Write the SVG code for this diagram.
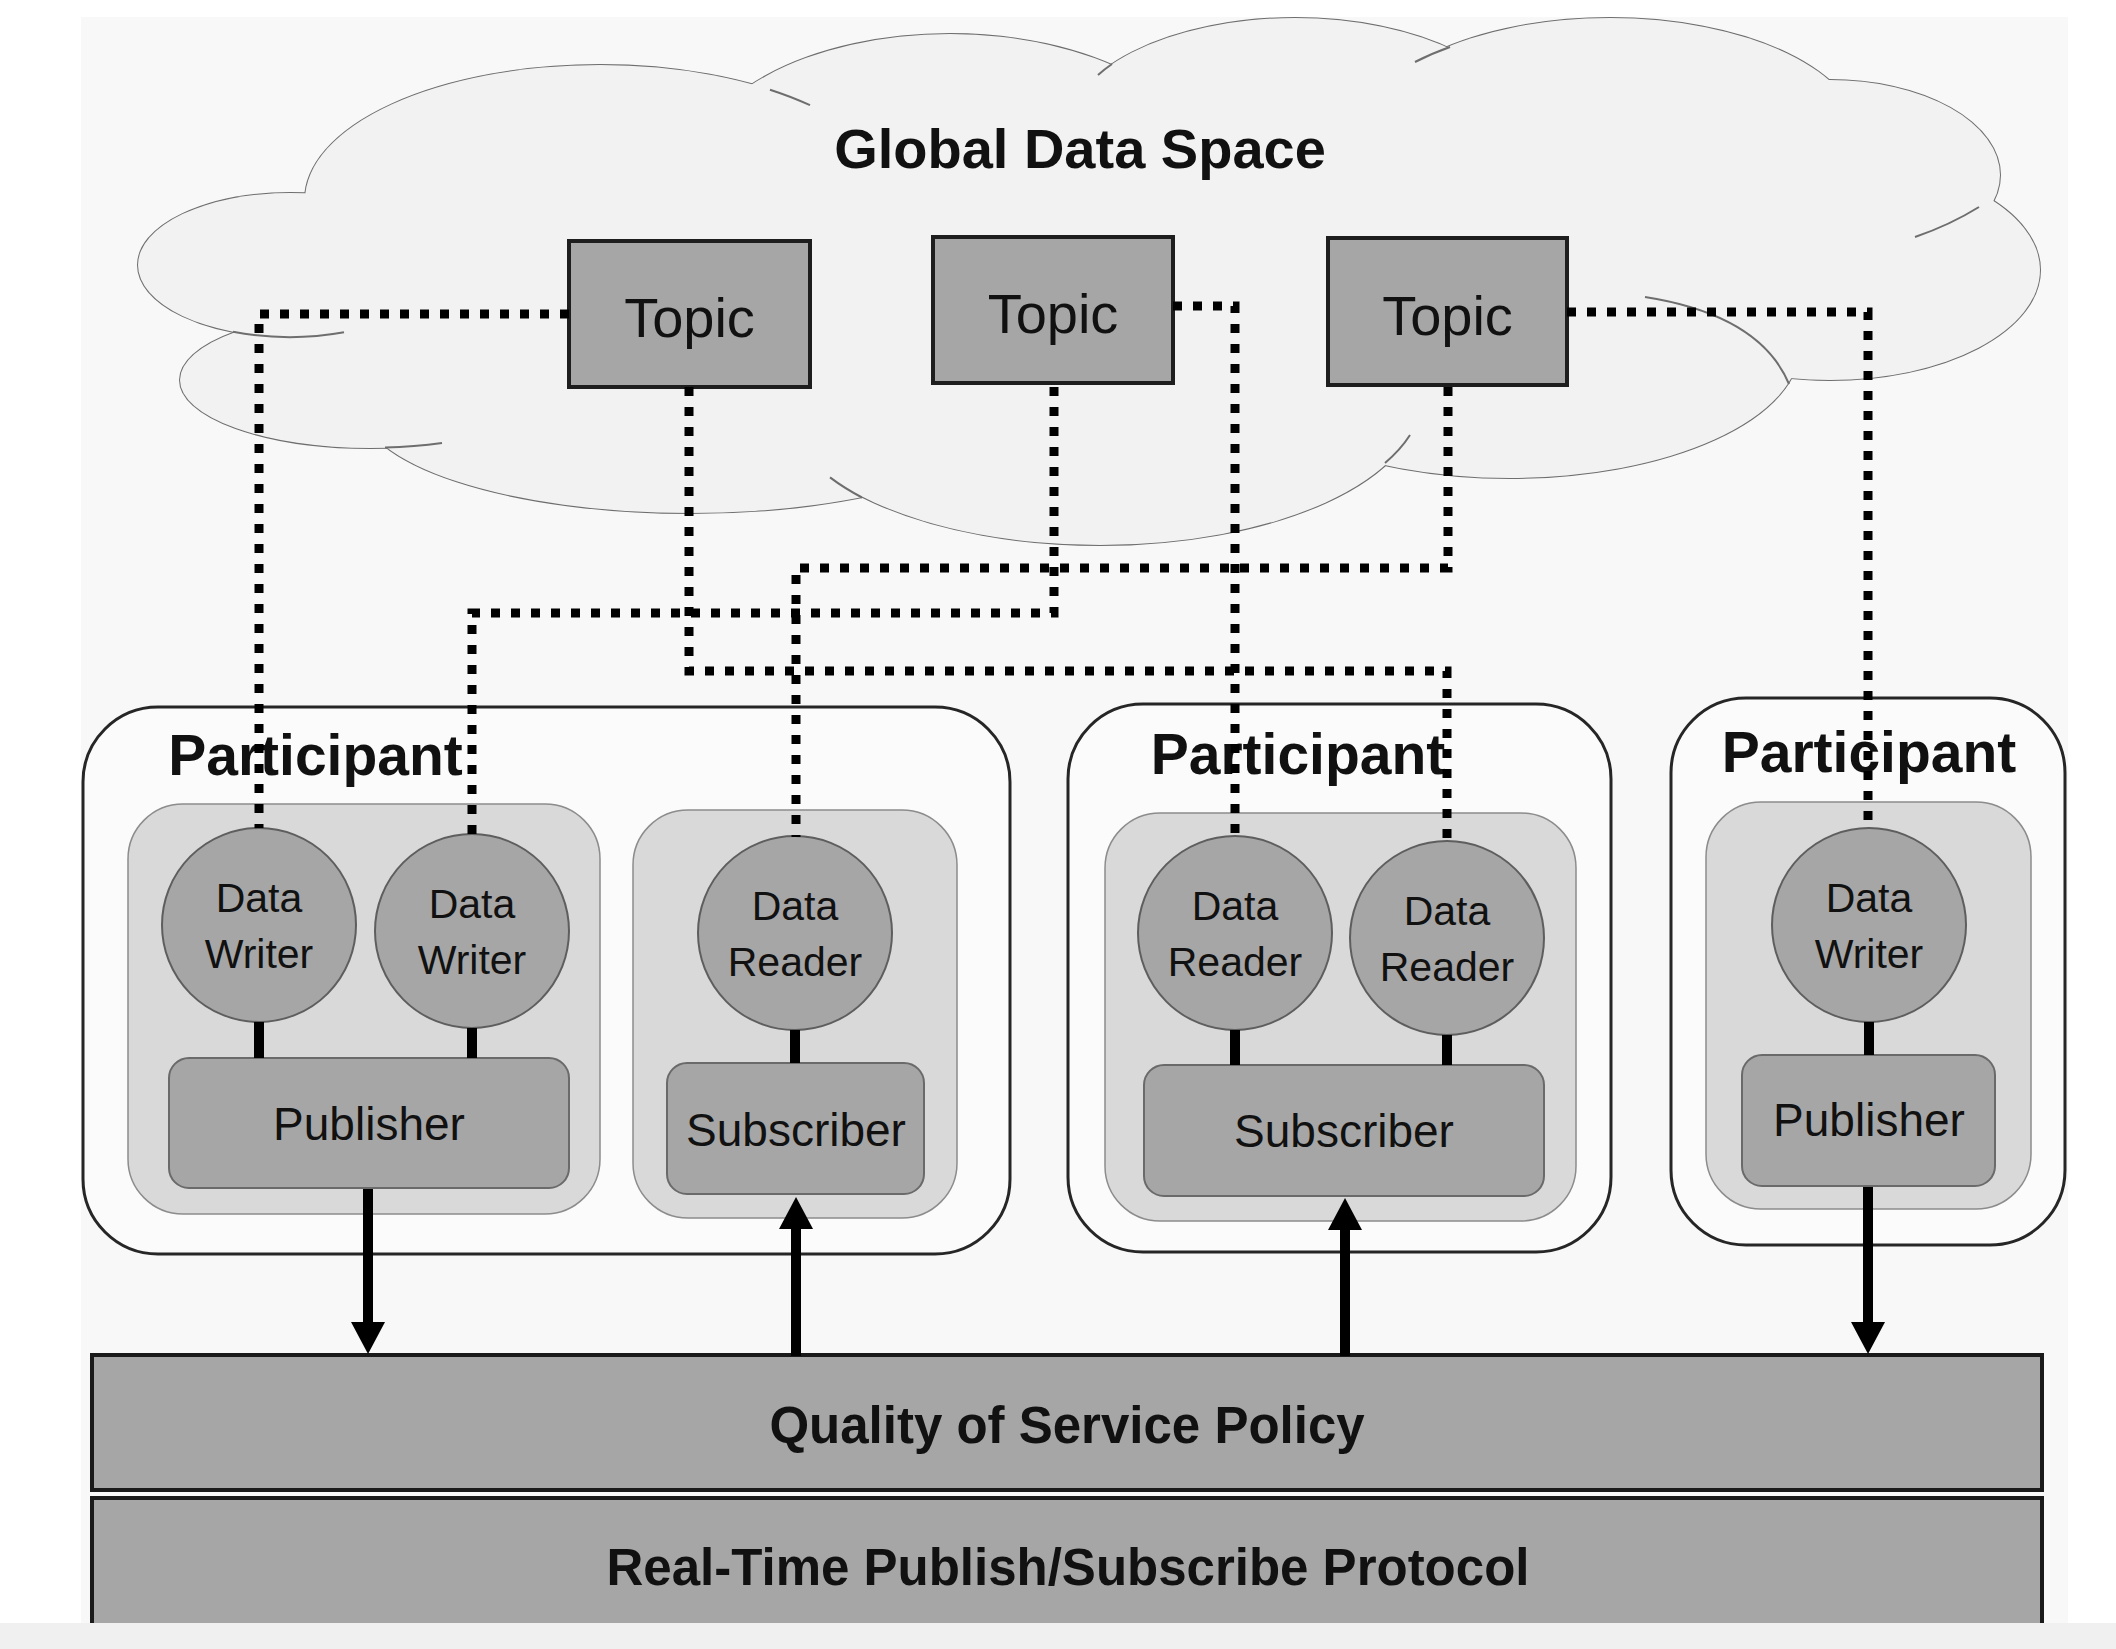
<svg xmlns="http://www.w3.org/2000/svg" width="2116" height="1649" viewBox="0 0 2116 1649">
<style>
.cl{fill:#f2f2f2;stroke:#6e6e6e;stroke-width:2}
.cf{fill:#f2f2f2;stroke:none}
.tail{fill:none;stroke:#6e6e6e;stroke-width:2}
.topic{fill:#a6a6a6;stroke:#1e1e1e;stroke-width:4}
.part{fill:#fbfbfb;stroke:#262626;stroke-width:3}
.inner{fill:#d9d9d9;stroke:#8c8c8c;stroke-width:1.5}
.box{fill:#a6a6a6;stroke:#6a6a6a;stroke-width:2}
.ent{fill:#a6a6a6;stroke:#5e5e5e;stroke-width:2}
.bar{fill:#a6a6a6;stroke:#1a1a1a;stroke-width:4}
.t{font-family:"Liberation Sans",Arial,sans-serif;fill:#111;text-anchor:middle}
.b{font-weight:bold}
.dot{fill:none;stroke:#000;stroke-width:9;stroke-dasharray:9 11}
.link{fill:none;stroke:#000;stroke-width:10}
.arr{fill:none;stroke:#000;stroke-width:10;marker-end:url(#ah)}
</style>
<defs>
<marker id="ah" markerUnits="userSpaceOnUse" markerWidth="34" markerHeight="34" viewBox="0 0 32 34" refX="2" refY="17" orient="auto"><path d="M0,0 L32,17 L0,34 z" fill="#000"/></marker>
</defs>
<rect x="0" y="0" width="2116" height="1649" fill="#ffffff"/>
<rect x="81" y="17" width="1987" height="1610" fill="#f8f8f8"/>

<g id="cloud">
<ellipse class="cl" cx="600" cy="200" rx="295" ry="135"/>
<ellipse class="cl" cx="950" cy="177" rx="260" ry="143"/>
<ellipse class="cl" cx="1295" cy="135" rx="230" ry="117"/>
<ellipse class="cl" cx="1610" cy="138" rx="250" ry="120"/>
<ellipse class="cl" cx="1830" cy="175" rx="170" ry="95"/>
<ellipse class="cl" cx="1830" cy="270" rx="210" ry="110"/>
<ellipse class="cl" cx="1510" cy="346" rx="290" ry="132"/>
<ellipse class="cl" cx="1100" cy="399" rx="320" ry="146"/>
<ellipse class="cl" cx="690" cy="405" rx="330" ry="108"/>
<ellipse class="cl" cx="370" cy="380" rx="190" ry="68"/>
<ellipse class="cl" cx="290" cy="265" rx="152" ry="72"/>
<ellipse class="cf" cx="600" cy="200" rx="295" ry="135"/>
<ellipse class="cf" cx="950" cy="177" rx="260" ry="143"/>
<ellipse class="cf" cx="1295" cy="135" rx="230" ry="117"/>
<ellipse class="cf" cx="1610" cy="138" rx="250" ry="120"/>
<ellipse class="cf" cx="1830" cy="175" rx="170" ry="95"/>
<ellipse class="cf" cx="1830" cy="270" rx="210" ry="110"/>
<ellipse class="cf" cx="1510" cy="346" rx="290" ry="132"/>
<ellipse class="cf" cx="1100" cy="399" rx="320" ry="146"/>
<ellipse class="cf" cx="690" cy="405" rx="330" ry="108"/>
<ellipse class="cf" cx="370" cy="380" rx="190" ry="68"/>
<ellipse class="cf" cx="290" cy="265" rx="152" ry="72"/>
<ellipse class="cf" cx="1080" cy="290" rx="800" ry="185"/>
<path class="tail" d="M770,89.7 A295 135 0 0 1 810,105.2"/>
<path class="tail" d="M1112,64 A230 117 0 0 0 1098,75"/>
<path class="tail" d="M1450,47 A250 120 0 0 0 1415,62"/>
<path class="tail" d="M1979,207 Q1950,225 1915,237"/>
<path class="tail" d="M1645,297 Q1760,315 1789,384"/>
<path class="tail" d="M1385,463 A320 146 0 0 0 1410,435"/>
<path class="tail" d="M862,497.5 A320 146 0 0 1 830,477.4"/>
<path class="tail" d="M385,447.6 A190 68 0 0 0 442,443"/>
<path class="tail" d="M233,331.8 A152 72 0 0 0 344,332.3"/>
<text class="t b" x="1080" y="168" font-size="56">Global Data Space</text>
</g>

<g id="topic1">
<rect class="topic" x="569" y="241" width="241" height="146"/>
<text class="t" x="689.5" y="337" font-size="56">Topic</text>
</g>
<g id="topic2">
<rect class="topic" x="933" y="237" width="240" height="146"/>
<text class="t" x="1053" y="333" font-size="56">Topic</text>
</g>
<g id="topic3">
<rect class="topic" x="1328" y="238" width="239" height="147"/>
<text class="t" x="1447.5" y="335" font-size="56">Topic</text>
</g>

<g id="participant1">
<rect class="part" x="83" y="707" width="927" height="547" rx="75"/>
<text class="t b" x="315.5" y="775" font-size="57">Participant</text>
<g id="p1-publisher-group">
<rect class="inner" x="128" y="804" width="472" height="410" rx="55"/>
<rect class="box" x="169" y="1058" width="400" height="130" rx="20"/>
<text class="t" x="369" y="1140" font-size="46">Publisher</text>
</g>
<g id="p1-writer1">
<ellipse class="ent" cx="259" cy="925" rx="97" ry="97"/>
<text class="t" x="259" y="912" font-size="41">Data</text>
<text class="t" x="259" y="968" font-size="41">Writer</text>
</g>
<g id="p1-writer2">
<ellipse class="ent" cx="472" cy="931" rx="97" ry="97"/>
<text class="t" x="472" y="918" font-size="41">Data</text>
<text class="t" x="472" y="974" font-size="41">Writer</text>
</g>
<g id="p1-subscriber-group">
<rect class="inner" x="633" y="810" width="324" height="408" rx="55"/>
<rect class="box" x="667" y="1063" width="257" height="131" rx="20"/>
<text class="t" x="796" y="1146" font-size="46">Subscriber</text>
</g>
<g id="p1-reader1">
<ellipse class="ent" cx="795" cy="933" rx="97" ry="97"/>
<text class="t" x="795" y="920" font-size="41">Data</text>
<text class="t" x="795" y="976" font-size="41">Reader</text>
</g>
</g>

<g id="participant2">
<rect class="part" x="1068" y="704" width="543" height="548" rx="75"/>
<text class="t b" x="1298" y="774" font-size="57">Participant</text>
<g id="p2-subscriber-group">
<rect class="inner" x="1105" y="813" width="471" height="408" rx="55"/>
<rect class="box" x="1144" y="1065" width="400" height="131" rx="20"/>
<text class="t" x="1344" y="1147" font-size="46">Subscriber</text>
</g>
<g id="p2-reader1">
<ellipse class="ent" cx="1235" cy="933" rx="97" ry="97"/>
<text class="t" x="1235" y="920" font-size="41">Data</text>
<text class="t" x="1235" y="976" font-size="41">Reader</text>
</g>
<g id="p2-reader2">
<ellipse class="ent" cx="1447" cy="938" rx="97" ry="97"/>
<text class="t" x="1447" y="925" font-size="41">Data</text>
<text class="t" x="1447" y="981" font-size="41">Reader</text>
</g>
</g>

<g id="participant3">
<rect class="part" x="1671" y="698" width="394" height="547" rx="75"/>
<text class="t b" x="1869" y="772" font-size="57">Participant</text>
<g id="p3-publisher-group">
<rect class="inner" x="1706" y="802" width="325" height="407" rx="55"/>
<rect class="box" x="1742" y="1055" width="253" height="131" rx="20"/>
<text class="t" x="1869" y="1136" font-size="46">Publisher</text>
</g>
<g id="p3-writer1">
<ellipse class="ent" cx="1869" cy="925" rx="97" ry="97"/>
<text class="t" x="1869" y="912" font-size="41">Data</text>
<text class="t" x="1869" y="968" font-size="41">Writer</text>
</g>
</g>

<g id="qos">
<rect class="bar" x="92" y="1355" width="1950" height="135"/>
<text class="t b" x="1067" y="1443" font-size="51">Quality of Service Policy</text>
</g>
<g id="rtps">
<rect class="bar" x="92" y="1498" width="1950" height="150"/>
<text class="t b" x="1068" y="1585" font-size="51">Real-Time Publish/Subscribe Protocol</text>
</g>

<g id="connectors">
<path class="dot" d="M569,314 H259 V828"/>
<path class="dot" d="M1054,387 V613 H472 V834"/>
<path class="dot" d="M1448,387 V568 H796 V837"/>
<path class="dot" d="M689,387 V671 H1447 V841"/>
<path class="dot" d="M1173,306 H1235 V837"/>
<path class="dot" d="M1567,312 H1868 V829"/>
<path class="link" d="M259,1022 V1058"/>
<path class="link" d="M472,1028 V1058"/>
<path class="link" d="M795,1030 V1063"/>
<path class="link" d="M1235,1030 V1065"/>
<path class="link" d="M1447,1035 V1065"/>
<path class="link" d="M1869,1022 V1055"/>
<path class="arr" d="M368,1189 V1324"/>
<path class="arr" d="M796,1356 V1227"/>
<path class="arr" d="M1345,1356 V1228"/>
<path class="arr" d="M1868,1187 V1324"/>
</g>
<rect x="0" y="1623" width="2116" height="26" fill="#f0f0f0"/>
</svg>
